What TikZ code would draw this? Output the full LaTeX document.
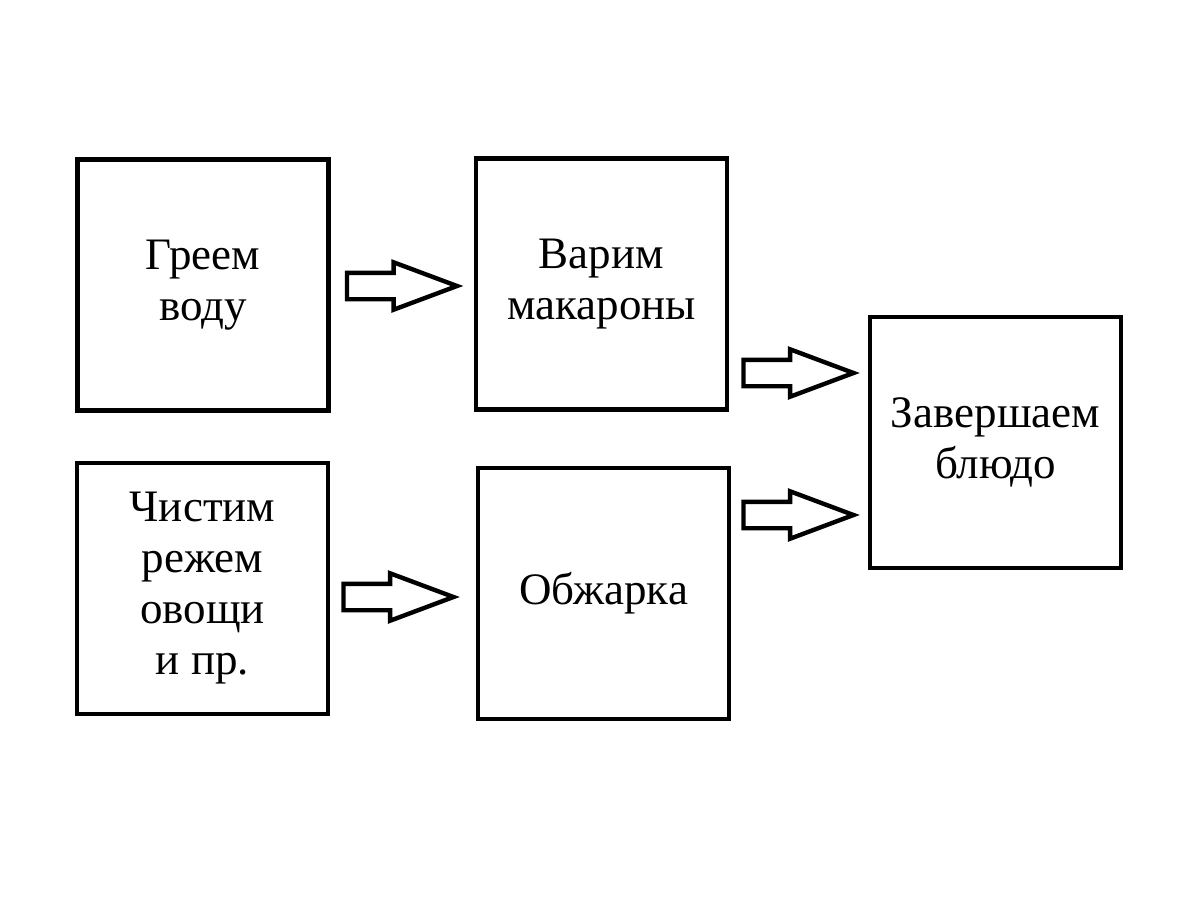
\documentclass[tikz,border=0pt]{standalone}
\usepackage{fontspec}
\setmainfont{Liberation Serif}
\usetikzlibrary{shapes.arrows, positioning, calc}

\begin{document}
\begin{tikzpicture}[
    x=0.5pt, y=-0.5pt,
    box/.style={rectangle, draw, line width=2.3pt, minimum width=125.5pt, minimum height=125.5pt, align=center, font=\fontsize{22.5}{25.5}\selectfont, inner sep=0pt},
    blockarrow/.style={single arrow, draw, line width=2.2pt, minimum height=55pt, minimum width=21.5pt, single arrow head extend=5.25pt, single arrow tip angle=41, inner xsep=0pt, inner ysep=5.5pt, anchor=tail}
]
\useasboundingbox (0,0) rectangle (1200,900);

% Steps
\node[box] (greem) at (203,285) {Греем\\воду};
\node[box] (varim) at (601.5,284) {Варим\\макароны};
\node[box] (chistim) at (202.5,588.5) {Чистим\\режем\\овощи\\и пр.};
\node[box] (obzharka) at (603.5,593.5) {Обжарка};
\node[box] (final) at (995.5,442.5) {Завершаем\\блюдо};

% Arrows
\node[blockarrow] (a1) at ($(greem.east)+(14,1)$) {};
\node[blockarrow] (a2) at ($(chistim.east)+(11,8.5)$) {};
\node[blockarrow] (a3) at ($(varim.east)+(12,89)$) {};
\node[blockarrow] (a4) at ($(obzharka.east)+(10,-78.5)$) {};
\end{tikzpicture}
\end{document}
